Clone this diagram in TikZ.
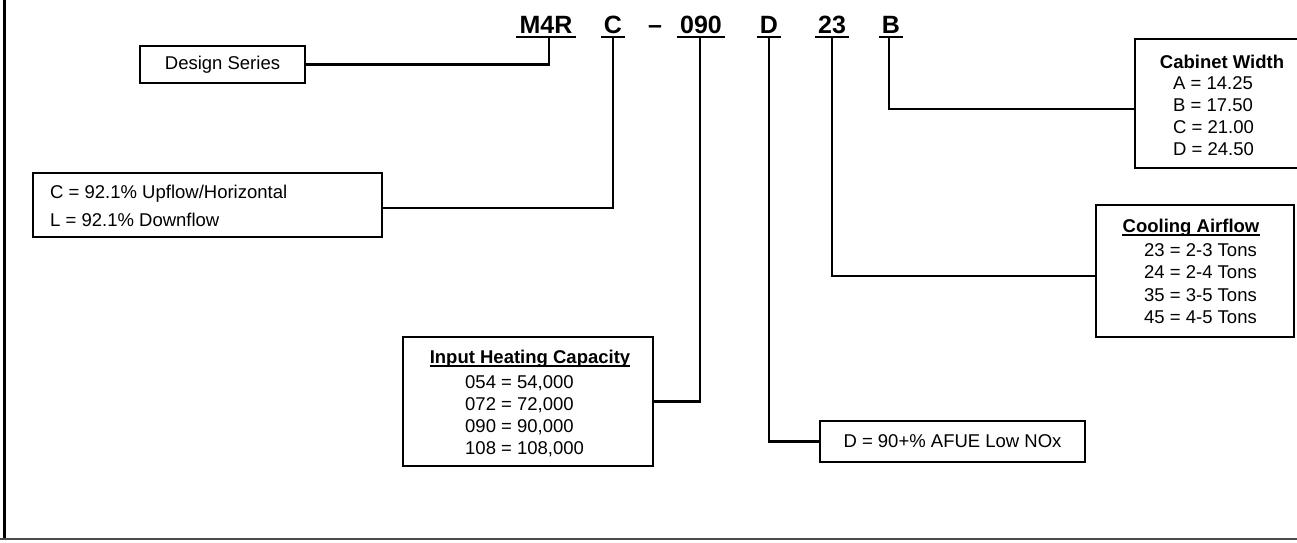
\documentclass[tikz,border=0pt]{standalone}
\usepackage{fontspec}
\setmainfont{Liberation Sans}
\usetikzlibrary{calc}
\begin{document}
\begin{tikzpicture}[x=1pt,y=-1pt,
  box/.style={draw, line width=2.6pt, rectangle, inner sep=0pt, font=\fontsize{18.5}{22}\selectfont},
  txt/.style={font=\fontsize{18.5}{22}\selectfont, inner sep=0pt, anchor=base west},
  txtr/.style={font=\fontsize{18.5}{22}\selectfont, inner sep=0pt, anchor=base east},
  ttl/.style={font=\fontsize{18.5}{22}\selectfont\bfseries, inner sep=0pt, anchor=base},
  code/.style={font=\fontsize{25}{30}\selectfont\bfseries, inner sep=0pt, anchor=base},
  conn/.style={line width=2.6pt},
  uline/.style={line width=2.6pt},
  tline/.style={line width=1.3pt}]
\useasboundingbox (0,0) rectangle (1297,542);
% frame
\draw[line width=2.7pt] (4.5,0) -- (4.5,538);
\draw[line width=2pt, black!70] (0,538.5) -- (1297,538.5);
% codes
\node[code] (m4r) at (546,33) {M4R};
\node[code] (c) at (613,33) {C};
\node[code] (dash) at (655,33) {--};
\node[code] (n090) at (701,33) {090};
\node[code] (d) at (769,33) {D};
\node[code] (n23) at (832,33) {23};
\node[code] (b) at (891,33) {B};
\foreach \n in {m4r,c,n090,d,n23,b}{
  \draw[uline] ($(\n.base west)+(-3,4)$) -- ($(\n.base east)+(3,4)$);
}
% boxes
\node[box, minimum width=165, minimum height=37] (ds) at (222.5,64.5) {Design Series};
\node[box, minimum width=349, minimum height=64] (cbox) at (207.5,205) {};
\node[txt] (c1) at (50,198.5) {C = 92.1\% Upflow/Horizontal};
\node[txt] (c2) at (50,226.5) {L = 92.1\% Downflow};
\node[box, minimum width=250, minimum height=129] (ibox) at (528,401.5) {};
\node[ttl] (it) at (530,363.5) {Input Heating Capacity};
\draw[tline] ($(it.base west)+(0,2.5)$) -- ($(it.base east)+(0,2.5)$);
\node[txt] (i1) at (465,388.5) {054 = 54,000};
\node[txt] (i2) at (465,410.5) {072 = 72,000};
\node[txt] (i3) at (465,432.5) {090 = 90,000};
\node[txt] (i4) at (465,454.5) {108 = 108,000};
\node[box, minimum width=165, minimum height=129] (cab) at (1217.5,103.5) {};
\node[ttl] (ct) at (1222,68.5) {Cabinet Width};
\node[txt] (a1) at (1173,89.5) {A = 14.25};
\node[txt] (a2) at (1173,111.5) {B = 17.50};
\node[txt] (a3) at (1173,133.5) {C = 21.00};
\node[txt] (a4) at (1173,155.5) {D = 24.50};
\node[box, minimum width=198, minimum height=132] (cool) at (1195,271) {};
\node[ttl] (cot) at (1191,232.5) {Cooling Airflow};
\draw[tline] ($(cot.base west)+(0,2.5)$) -- ($(cot.base east)+(0,2.5)$);
\node[txtr] (t1) at (1257,256.5) {23 = 2-3 Tons};
\node[txtr] (t2) at (1257,278.5) {24 = 2-4 Tons};
\node[txtr] (t3) at (1257,301) {35 = 3-5 Tons};
\node[txtr] (t4) at (1257,323) {45 = 4-5 Tons};
\node[box, minimum width=265, minimum height=41] (dbox) at (952.5,441.5) {D = 90+\% AFUE Low NOx};
% connectors
\draw[conn] ($(m4r.base)+(3,4)$) |- (ds.east);
\draw[conn] ($(c.base)+(0,4)$) |- ([yshift=-3pt]cbox.east);
\draw[conn] ($(n090.base)+(-1,4)$) |- (ibox.east);
\draw[conn] ($(d.base)+(0,4)$) |- (dbox.west);
\draw[conn] ($(n23.base)+(0,4)$) |- ([yshift=-5pt]cool.west);
\draw[conn] ($(b.base)+(-2,4)$) |- ([yshift=-5.5pt]cab.west);
\end{tikzpicture}
\end{document}
